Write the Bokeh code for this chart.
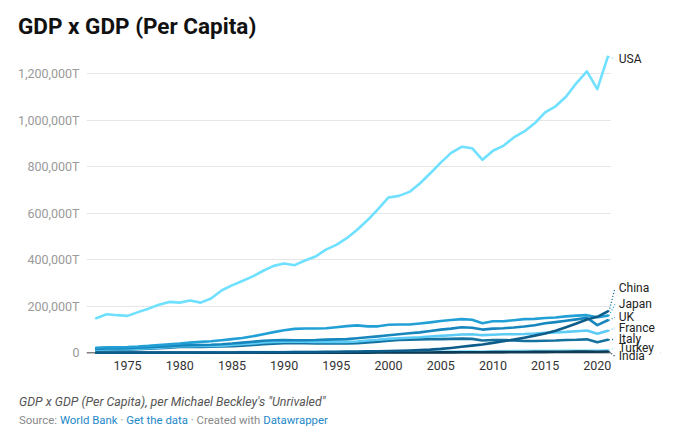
from bokeh.plotting import figure
from bokeh.models import (ColumnDataSource, Range1d, FixedTicker, CustomJSTickFormatter,
                          Span, LabelSet, BoxAnnotation, Div)
from bokeh.core.properties import value
from bokeh.layouts import column
from bokeh.embed import file_html
from bokeh.resources import INLINE

# ---------------- data (values in thousands of "T") ----------------
years = list(range(1972, 2022))

usa_k = [149, 166, 162, 159, 175, 190, 207, 219, 216, 225, 216, 234, 268, 290, 309, 329, 353, 374, 384, 377,
         397, 414, 444, 464, 493, 529, 571, 618, 668, 675, 692, 728, 772, 818, 860, 886, 880, 830, 869, 890,
         926, 952, 987, 1034, 1060, 1101, 1160, 1210, 1134, 1273]
japan_k = [22, 24, 24, 25, 27, 30, 34, 37, 40, 44, 47, 50, 54, 59, 64, 71, 80, 89, 97, 103,
           105, 105, 106, 110, 115, 118, 114, 114, 121, 122, 122, 126, 131, 137, 141, 145, 142, 127, 136, 136,
           140, 145, 146, 150, 152, 157, 160, 162, 153, 160]
uk_k = [17, 19, 19, 20, 22, 24, 26, 29, 32, 33, 34, 35, 37, 40, 44, 48, 52, 54, 55, 54,
        54, 55, 57, 58, 59, 63, 67, 71, 76, 80, 84, 88, 94, 100, 104, 110, 108, 100, 104, 106,
        109, 113, 119, 127, 132, 138, 144, 151, 119, 140]
france_k = [14, 15, 16, 16, 18, 20, 22, 25, 29, 29, 30, 30, 31, 34, 37, 40, 45, 47, 48, 48,
            48, 47, 47, 48, 47, 49, 53, 56, 60, 63, 65, 67, 70, 73, 76, 79, 80, 76, 78, 80,
            80, 81, 83, 86, 88, 90, 93, 96, 82, 95]
italy_k = [12, 13, 14, 14, 16, 18, 20, 22, 25, 25, 25, 26, 27, 29, 31, 34, 37, 39, 41, 42,
           42, 40, 40, 41, 40, 42, 45, 48, 52, 55, 57, 58, 59, 59, 60, 61, 60, 53, 55, 55,
           53, 51, 51, 52, 53, 55, 56, 58, 46, 56]
china_k = [1, 1, 1, 1, 1, 1, 1, 1, 1, 1.1, 1.2, 1.3, 1.5, 1.7, 1.9, 2.1, 2.4, 2.5, 2.6, 2.9,
           3.3, 3.8, 4.3, 4.8, 5.3, 5.8, 6.3, 6.9, 7.9, 8.9, 10, 12, 14, 17, 21, 26, 31, 36, 43, 50,
           57, 65, 74, 83, 95, 110, 126, 143, 155, 178]
turkey_k = [1.5, 1.6, 1.7, 1.8, 1.9, 2.0, 2.1, 2.2, 2.3, 2.4, 2.5, 2.6, 2.7, 2.8, 2.9, 3.0, 3.1, 3.2, 3.4, 3.4,
            3.5, 3.7, 3.5, 3.8, 4.0, 4.3, 4.4, 4.2, 4.6, 4.1, 4.4, 4.7, 5.2, 5.6, 6.0, 6.3, 6.4, 6.0, 6.8, 7.5,
            7.8, 8.3, 8.6, 9.0, 9.3, 9.8, 10.0, 10.0, 10.3, 12.0]
india_k = [0.3, 0.3, 0.3, 0.3, 0.3, 0.3, 0.4, 0.4, 0.4, 0.4, 0.4, 0.5, 0.5, 0.5, 0.5, 0.6, 0.6, 0.7, 0.7, 0.7,
           0.7, 0.8, 0.8, 0.9, 1.0, 1.0, 1.1, 1.2, 1.2, 1.3, 1.4, 1.5, 1.7, 1.9, 2.1, 2.4, 2.5, 2.8, 3.1, 3.3,
           3.5, 3.7, 4.0, 4.3, 4.6, 4.9, 5.2, 5.4, 5.0, 5.7]

countries = ["Turkey", "India", "Italy", "France", "UK", "Japan", "China", "USA"]
series_k = {"USA": usa_k, "Japan": japan_k, "UK": uk_k, "France": france_k, "Italy": italy_k,
            "China": china_k, "Turkey": turkey_k, "India": india_k}
y_ticks = [0, 200000, 400000, 600000, 800000, 1000000, 1200000]
x_ticks = [1975, 1980, 1985, 1990, 1995, 2000, 2005, 2010, 2015, 2020]

title_text = "GDP x GDP (Per Capita)"
note_text = "GDP x GDP (Per Capita), per Michael Beckley's \"Unrivaled\""

# ---------------- styles / layout ----------------
colors = {"USA": "#6fe0ff", "Japan": "#22a0d6", "UK": "#1786bd", "France": "#5ccbf5",
          "Italy": "#15729f", "China": "#0d5c8a", "Turkey": "#8ee3ff", "India": "#0b3b56"}
# label heights in px above the zero line (de-overlapped positions)
label_px = {"USA": 294, "China": 64.5, "Japan": 48.5, "UK": 35.5, "France": 25,
            "Italy": 13.5, "Turkey": 5, "India": -3.5}

FONT = "Roboto"
LINK = "#1e88c8"
PX_PER_UNIT = 307 / 1320000.0
Y1 = 1300000
FRAME_H = 312
Y0 = Y1 - FRAME_H / PX_PER_UNIT
FRAME_W = 574
X0 = 1971.07
X1 = X0 + FRAME_W / 10.44

p = figure(frame_width=FRAME_W, frame_height=FRAME_H,
           min_border_left=86, min_border_right=27, min_border_top=6, min_border_bottom=18,
           x_range=Range1d(X0, X1), y_range=Range1d(Y0, Y1),
           output_backend="svg", toolbar_location=None)
p.outline_line_color = None
p.background_fill_color = "white"
p.border_fill_color = "white"

# axes
p.xaxis.ticker = FixedTicker(ticks=x_ticks)
p.yaxis.ticker = FixedTicker(ticks=y_ticks)
p.yaxis.formatter = CustomJSTickFormatter(code="""
    if (tick == 0) { return "0"; }
    return String(Math.round(tick)).replace(/\\B(?=(\\d{3})+(?!\\d))/g, ",") + "T";
""")
for ax in (p.xaxis[0], p.yaxis[0]):
    ax.axis_line_color = None
    ax.major_tick_line_color = None
    ax.minor_tick_line_color = None
    ax.major_tick_out = 0
    ax.major_tick_in = 0
    ax.minor_tick_out = 0
    ax.major_label_text_font = FONT
    ax.major_label_text_font_size = "12.5px"
p.xaxis.major_label_text_color = "#333333"
p.xaxis.major_label_standoff = -2
p.yaxis.major_label_text_color = "#9a9a9a"
p.yaxis.major_label_standoff = 7

p.xgrid.grid_line_color = None
p.ygrid.grid_line_color = "#e6e6e6"
p.ygrid.grid_line_width = 1

# zero line, then hide grid/zero line right of the data area (label gutter)
p.add_layout(Span(location=0, dimension="width", line_color="#4a4a4a", line_width=1, level="underlay"))
p.add_layout(BoxAnnotation(left=years[-1] + 0.3, fill_color="white", fill_alpha=1.0,
                           line_color=None, level="underlay"))

# lines
for c in countries:
    vals = [v * 1000 for v in series_k[c]]
    src = ColumnDataSource(dict(x=years, y=vals))
    p.line("x", "y", source=src, line_color=colors[c], line_width=2.6,
           line_cap="round", line_join="round")

# end labels + dotted connectors
lab = dict(x=[], y=[], text=[], x0=[], y0=[], x1=[], y1=[], color=[])
for c in ["USA", "China", "Japan", "UK", "France", "Italy", "Turkey", "India"]:
    end_year = years[-1]
    end_val = series_k[c][-1] * 1000
    ly = label_px[c] / PX_PER_UNIT
    lab["x"].append(end_year)
    lab["y"].append(ly)
    lab["text"].append(c)
    lab["x0"].append(end_year + 0.12)
    lab["y0"].append(end_val)
    lab["x1"].append(end_year + 0.68)
    lab["y1"].append(ly)
    lab["color"].append(colors[c])
lsrc = ColumnDataSource(lab)
p.segment("x0", "y0", "x1", "y1", source=lsrc, line_color="color", line_width=1.3,
          line_dash="1 2")
p.add_layout(LabelSet(x="x", y="y", text="text", source=lsrc, x_offset=11,
                      text_baseline="middle", text_align="left", text_font=value(FONT),
                      text_font_size=value("12px"), text_color=value("#222222")))

# ---------------- title & footer ----------------
title_div = Div(text=(
    f'<div style="font-family:Roboto;font-weight:700;font-size:22.5px;line-height:26px;'
    f'color:#111111;padding:13px 0 0 18px;white-space:nowrap;">{title_text}</div>'),
    width=687, height=44, margin=(0, 0, 0, 0))

footer_div = Div(text=(
    '<div style="font-family:Roboto;padding:14px 0 0 19px;white-space:nowrap;">'
    f'<div style="font-style:italic;font-size:12.4px;line-height:16px;color:#555555;">{note_text}</div>'
    '<div style="font-size:11.4px;line-height:14px;color:#888888;margin-top:3px;">'
    f'Source: <span style="color:{LINK}">World Bank</span> \u00b7 '
    f'<span style="color:{LINK}">Get the data</span> \u00b7 Created with '
    f'<span style="color:{LINK}">Datawrapper</span></div></div>'),
    width=687, height=57, margin=(0, 0, 0, 0))

layout = column(title_div, p, footer_div, spacing=0)
open("out.html", "w").write(file_html(layout, INLINE))
